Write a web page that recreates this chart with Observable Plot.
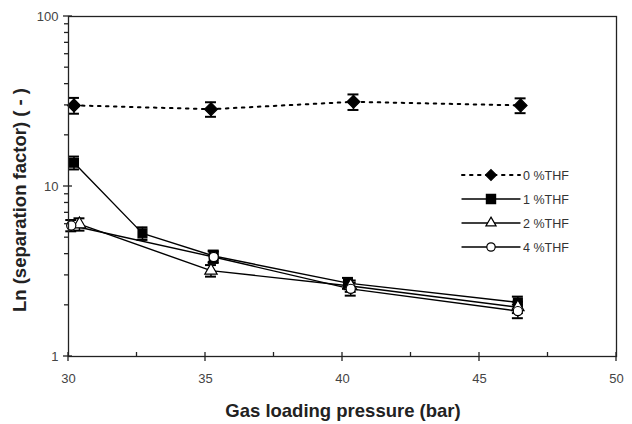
<!DOCTYPE html>
<html><head><meta charset="utf-8">
<script src="https://cdn.jsdelivr.net/npm/d3@7"></script>
<script src="https://cdn.jsdelivr.net/npm/@observablehq/plot@0.6"></script>
<style>
html,body{margin:0;padding:0;background:#fff;}
#wrap{position:relative;width:632px;height:424px;font-family:"Liberation Sans",Arial,sans-serif;}
</style></head>
<body><div id="wrap"></div>
<script>
const seriesNames = ["0 %THF", "1 %THF", "2 %THF", "4 %THF"];
const pressure0 = [30.2, 35.2, 40.4, 46.5];
const value0 = [30.0, 28.5, 31.5, 30.0];
const err0 = [3.2, 2.8, 3.3, 3.0];
const pressure1 = [30.2, 32.7, 35.3, 40.2, 46.4];
const value1 = [13.8, 5.3, 3.9, 2.7, 2.08];
const err1 = [1.2, 0.45, 0.3, 0.2, 0.17];
const pressure2 = [30.4, 35.2, 40.3, 46.4];
const value2 = [6.0, 3.2, 2.6, 1.95];
const err2 = [0.5, 0.25, 0.2, 0.15];
const pressure4 = [30.1, 35.3, 40.3, 46.4];
const value4 = [5.9, 3.85, 2.5, 1.85];
const err4 = [0.45, 0.3, 0.22, 0.17];
const xTicks = [30, 35, 40, 45, 50];
const xMinor = [32.5, 37.5, 42.5, 47.5];
const yTicks = [1, 10, 100];
const yMinor = [2,3,4,5,6,7,8,9,20,30,40,50,60,70,80,90];

function rows(name, xs, ys, es) {
  return xs.map((x, i) => ({series: name, x, y: ys[i], lo: ys[i] - es[i], hi: ys[i] + es[i]}));
}
const d0 = rows(seriesNames[0], pressure0, value0, err0);
const d1 = rows(seriesNames[1], pressure1, value1, err1);
const d2 = rows(seriesNames[2], pressure2, value2, err2);
const d4 = rows(seriesNames[3], pressure4, value4, err4);
const all = [...d0, ...d1, ...d2, ...d4];
const capW = 0.2;

const styles = {
  "0 %THF": {symbol: "diamond2", fill: "black", r: 5.8, dash: "2.5,5.5", sw: 2},
  "1 %THF": {symbol: "square", fill: "black", r: 5, dash: null, sw: 1.4},
  "2 %THF": {symbol: "triangle", fill: "white", r: 4.6, dash: null, sw: 1.4},
  "4 %THF": {symbol: "circle", fill: "white", r: 4.6, dash: null, sw: 1.4}
};

const marks = [];
for (const d of [d0, d1, d2, d4]) {
  const s = styles[d[0].series];
  marks.push(Plot.line(d, {x: "x", y: "y", stroke: "black", strokeWidth: s.sw, strokeDasharray: s.dash, strokeLinecap: "round"}));
}
marks.push(Plot.ruleX(all, {x: "x", y1: "lo", y2: "hi", stroke: "black", strokeWidth: 1.5}));
marks.push(Plot.ruleY(all, {y: "lo", x1: d => d.x - capW, x2: d => d.x + capW, stroke: "black", strokeWidth: 2}));
marks.push(Plot.ruleY(all, {y: "hi", x1: d => d.x - capW, x2: d => d.x + capW, stroke: "black", strokeWidth: 2}));
for (const d of [d0, d1, d2, d4]) {
  const s = styles[d[0].series];
  marks.push(Plot.dot(d, {x: "x", y: "y", symbol: () => s.symbol, fill: s.fill, stroke: "black", strokeWidth: 1.2, r: s.r}));
}
marks.push(Plot.frame({stroke: "#222", strokeWidth: 1.3}));

const chart = Plot.plot({
  width: 632, height: 424,
  marginLeft: 68, marginRight: 16, marginTop: 16, marginBottom: 68,
  style: {fontFamily: "Liberation Sans, Arial, sans-serif", background: "white", color: "#444", overflow: "visible"},
  x: {domain: [30, 50], label: null, ticks: xTicks, tickSize: 0, tickPadding: 17, tickFormat: d => String(d)},
  y: {type: "log", domain: [1, 100], label: null, ticks: yTicks, tickSize: 0, tickPadding: 10, tickFormat: d => String(d)},
  marks
});
document.getElementById("wrap").appendChild(chart);

const svg = d3.select(chart);
svg.selectAll("text").filter(function() {
  const p = this.closest("[aria-label]");
  return p && /tick/.test(p.getAttribute("aria-label"));
}).style("font-size", "13px");

const xs = chart.scale("x"), ys = chart.scale("y");
const X0 = 68, Y0 = 424 - 68;
const tk = svg.append("g").attr("stroke", "#222").attr("stroke-width", 1.3);
xTicks.forEach(v => { const px = xs.apply(v); tk.append("line").attr("x1", px).attr("x2", px).attr("y1", Y0 - 4).attr("y2", Y0 + 5); });
xMinor.forEach(v => { const px = xs.apply(v); tk.append("line").attr("x1", px).attr("x2", px).attr("y1", Y0 - 4).attr("y2", Y0); });
yTicks.forEach(v => { const py = ys.apply(v); tk.append("line").attr("x1", X0 - 5).attr("x2", X0 + 4).attr("y1", py).attr("y2", py); });
yMinor.forEach(v => { const py = ys.apply(v); tk.append("line").attr("x1", X0 - 4).attr("x2", X0).attr("y1", py).attr("y2", py); });

svg.append("text").attr("x", 343).attr("y", 417).attr("text-anchor", "middle")
  .style("font-size", "18.5px").attr("font-weight", "bold").attr("fill", "#222").text("Gas loading pressure (bar)");
svg.append("text").attr("transform", "translate(26,200) rotate(-90)").attr("text-anchor", "middle")
  .style("font-size", "18.5px").attr("font-weight", "bold").attr("fill", "#222").text("Ln (separation factor) ( - )");

const lg = svg.append("g").attr("transform", "translate(462,175)");
const symMap = {diamond2: d3.symbolDiamond2, square: d3.symbolSquare, triangle: d3.symbolTriangle, circle: d3.symbolCircle};
const sizes = {diamond2: 75, square: 85, triangle: 45, circle: 55};
seriesNames.forEach((name, i) => {
  const s = styles[name];
  const g = lg.append("g").attr("transform", `translate(0,${i * 24})`);
  g.append("line").attr("x1", 0).attr("x2", 58).attr("y1", 0).attr("y2", 0)
    .attr("stroke", "black").attr("stroke-width", s.sw).attr("stroke-dasharray", s.dash)
    .attr("stroke-linecap", "round");
  g.append("path").attr("d", d3.symbol(symMap[s.symbol], sizes[s.symbol])())
    .attr("transform", "translate(29,0)").attr("fill", s.fill).attr("stroke", "black").attr("stroke-width", 1.2);
  g.append("text").attr("x", 61).attr("y", 4.5).attr("text-anchor", "start")
    .style("font-size", "12.5px").attr("fill", "#333").text(name);
});
</script></body></html>
